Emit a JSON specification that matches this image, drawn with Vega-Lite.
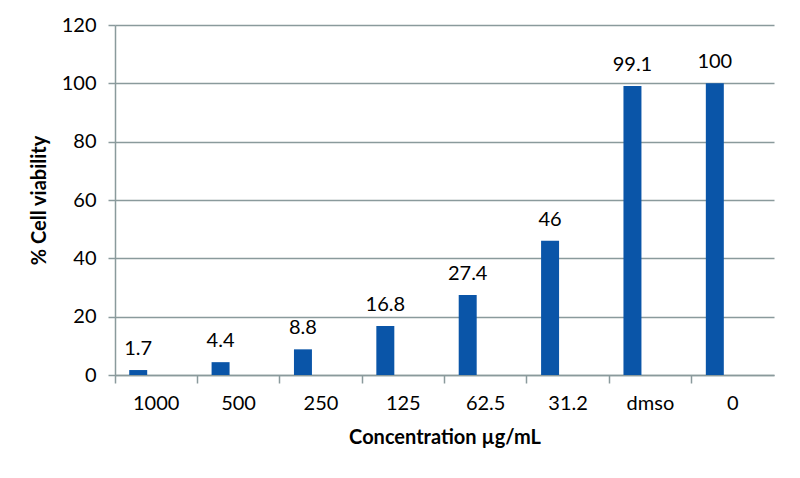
{
  "$schema": "https://vega.github.io/schema/vega-lite/v6.json",
  "autosize": {"type": "none"},
  "padding": {"left": 115, "top": 25, "right": 26, "bottom": 103},
  "width": 659,
  "height": 350,
  "background": "white",
  "config": {
    "font": "Lato",
    "view": {"stroke": null},
    "axis": {"labelFont": "Lato", "titleFont": "Lato", "labelColor": "#000000", "titleColor": "#000000"}
  },
  "data": {
    "values": [
      {"conc": "1000", "viability": 1.7, "series": "A"},
      {"conc": "500", "viability": 4.4, "series": "A"},
      {"conc": "250", "viability": 8.8, "series": "A"},
      {"conc": "125", "viability": 16.8, "series": "A"},
      {"conc": "62.5", "viability": 27.4, "series": "A"},
      {"conc": "31.2", "viability": 46, "series": "A"},
      {"conc": "dmso", "viability": 99.1, "series": "A"},
      {"conc": "0", "viability": 100, "series": "A"}
    ]
  },
  "encoding": {
    "x": {
      "field": "conc",
      "type": "nominal",
      "sort": null,
      "scale": {"paddingInner": 0, "paddingOuter": 0},
      "axis": {
        "title": "Concentration µg/mL",
        "titleFontSize": 20,
        "titleFontWeight": "bold",
        "titlePadding": 14,
        "labelFontSize": 20,
        "labelAngle": 0,
        "labelPadding": 10,
        "bandPosition": 0,
        "ticks": true,
        "tickSize": 8,
        "tickColor": "#8a9a9c",
        "domainColor": "#8a9a9c",
        "domainWidth": 1.5,
        "tickWidth": 1.5
      }
    },
    "xOffset": {
      "field": "series",
      "type": "nominal",
      "scale": {"domain": ["A", "B", "C"], "paddingInner": 0, "paddingOuter": 0.79}
    },
    "y": {
      "field": "viability",
      "type": "quantitative",
      "scale": {"domain": [0, 120], "nice": false},
      "axis": {
        "title": "% Cell viability",
        "titleFontSize": 20,
        "titleFontWeight": "bold",
        "titlePadding": 12,
        "labelFontSize": 20,
        "labelPadding": 12,
        "values": [0, 20, 40, 60, 80, 100, 120],
        "tickSize": 7,
        "tickColor": "#8a9a9c",
        "domainColor": "#8a9a9c",
        "domainWidth": 1.5,
        "tickWidth": 1.5,
        "grid": true,
        "gridColor": "#8a9a9c",
        "gridWidth": 1.5
      }
    }
  },
  "layer": [
    {"mark": {"type": "bar", "color": "#0a55a8"}},
    {
      "mark": {"type": "text", "baseline": "alphabetic", "dy": -15, "fontSize": 20, "color": "#000000"},
      "encoding": {"text": {"field": "viability", "type": "quantitative"}}
    }
  ]
}
